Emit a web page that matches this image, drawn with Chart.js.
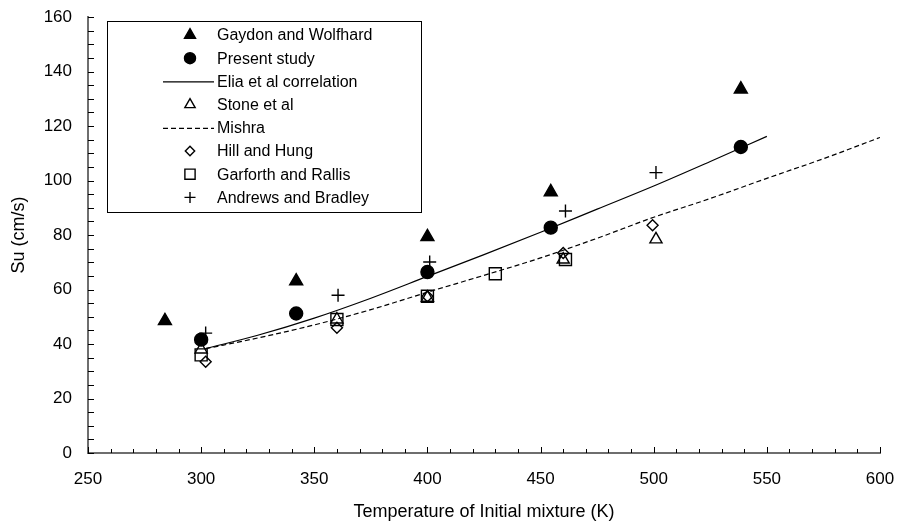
<!DOCTYPE html>
<html>
<head>
<meta charset="utf-8">
<script src="https://cdn.jsdelivr.net/npm/chart.js@4/dist/chart.umd.min.js"></script>
<style>
  html, body { margin: 0; padding: 0; background: #fff; }
  canvas { display: block; }
</style>
</head>
<body>
<canvas id="c" width="900" height="529"></canvas>
<script>
// Burning velocity Su (cm/s) against initial mixture temperature (K)
const gaydonT = [284, 342, 400, 454.5, 538.5];
const gaydonSu = [48.5, 63.1, 79.3, 95.8, 133.5];

const presentT = [300, 342, 400, 454.5, 538.5];
const presentSu = [41.6, 51.2, 66.4, 82.7, 112.3];

const eliaT = [302, 325, 350, 375, 400, 425, 450, 475, 500, 525, 550];
const eliaSu = [38.3, 43.2, 49.5, 56.8, 64.8, 72.8, 81.0, 89.5, 98.0, 107.0, 116.2];

const stoneT = [300, 360, 400, 460, 501];
const stoneSu = [38, 49, 57, 71, 78.4];

const mishraT = [302, 325, 350, 375, 400, 425, 450, 475, 500, 525, 550, 575, 600];
const mishraSu = [38.3, 42.2, 47.0, 52.6, 59.0, 65.2, 71.6, 78.8, 86.5, 93.4, 100.8, 108.0, 115.8];

const hillT = [302, 360, 400, 460, 499.5];
const hillSu = [33.5, 46, 57.5, 73.4, 83.6];

const garforthT = [300, 360, 400, 430, 461];
const garforthSu = [36, 49, 57.5, 65.8, 71];

const andrewsT = [302, 360.5, 401, 461, 501];
const andrewsSu = [44, 57.9, 70.1, 88.8, 102.9];

const xTickValues = [250, 300, 350, 400, 450, 500, 550, 600];
const yTickValues = [0, 20, 40, 60, 80, 100, 120, 140, 160];

const FONT = "'Liberation Sans', Arial, sans-serif";

function pts(xs, ys) {
  return xs.map((x, i) => ({ x: x, y: ys[i] }));
}

function markers(label, xs, ys, style, radius, filled) {
  return {
    label: label,
    data: pts(xs, ys),
    showLine: false,
    pointStyle: style,
    pointRadius: radius,
    pointHoverRadius: radius,
    pointBorderWidth: 1.4,
    pointBorderColor: '#000',
    pointBackgroundColor: filled ? '#000' : 'rgba(0,0,0,0)',
    borderColor: '#000',
    backgroundColor: filled ? '#000' : 'rgba(0,0,0,0)'
  };
}

function curve(label, xs, ys, dash) {
  return {
    label: label,
    data: pts(xs, ys),
    showLine: true,
    pointRadius: 0,
    pointHoverRadius: 0,
    borderColor: '#000',
    borderWidth: 1.2,
    borderDash: dash,
    cubicInterpolationMode: 'monotone',
    fill: false
  };
}

const datasets = [
  markers('Gaydon and Wolfhard', gaydonT, gaydonSu, 'triangle', 7.5, true),
  markers('Present study', presentT, presentSu, 'circle', 6.5, true),
  curve('Elia et al correlation', eliaT, eliaSu, []),
  markers('Stone et al', stoneT, stoneSu, 'triangle', 7, false),
  curve('Mishra', mishraT, mishraSu, [5, 3]),
  markers('Hill and Hung', hillT, hillSu, 'rectRot', 5.5, false),
  markers('Garforth and Rallis', garforthT, garforthSu, 'rect', 8.5, false),
  markers('Andrews and Bradley', andrewsT, andrewsSu, 'cross', 6.5, false)
];

// Inward tick marks: x every 10 K, y every 5 cm/s
const tickMarks = {
  id: 'tickMarks',
  afterDraw(chart) {
    const { ctx, scales: { x, y } } = chart;
    ctx.save();
    ctx.strokeStyle = '#000';
    ctx.lineWidth = 1;
    ctx.beginPath();
    for (let t = 250; t <= 600; t += 10) {
      const px = Math.round(x.getPixelForValue(t)) + 0.5;
      const len = (t % 50 === 0) ? 6 : 4;
      ctx.moveTo(px, y.bottom);
      ctx.lineTo(px, y.bottom - len);
    }
    for (let v = 0; v <= 160; v += 5) {
      const py = Math.round(y.getPixelForValue(v)) + 0.5;
      ctx.moveTo(x.left, py);
      ctx.lineTo(x.left + 6, py);
    }
    ctx.stroke();
    ctx.restore();
  }
};

// Boxed legend inside the plot area, drawn from the datasets' own styles
const boxLegend = {
  id: 'boxLegend',
  afterDatasetsDraw(chart) {
    const ctx = chart.ctx;
    const left = 107.5, top = 21.5, right = 421.5, bottom = 212.5;
    const rowTop = 35, rowGap = 23.2;
    const markX = 190, lineX0 = 163, lineX1 = 214, textX = 217;
    ctx.save();
    ctx.fillStyle = '#fff';
    ctx.fillRect(left, top, right - left, bottom - top);
    ctx.strokeStyle = '#000';
    ctx.lineWidth = 1;
    ctx.strokeRect(left, top, right - left, bottom - top);
    chart.data.datasets.forEach((ds, i) => {
      const yy = rowTop + i * rowGap;
      if (ds.showLine) {
        ctx.save();
        ctx.strokeStyle = ds.borderColor;
        ctx.lineWidth = ds.borderWidth;
        ctx.setLineDash(ds.borderDash || []);
        ctx.beginPath();
        ctx.moveTo(lineX0, yy + 0.5);
        ctx.lineTo(lineX1, yy + 0.5);
        ctx.stroke();
        ctx.restore();
      } else {
        ctx.save();
        ctx.strokeStyle = ds.pointBorderColor;
        ctx.fillStyle = ds.pointBackgroundColor;
        ctx.lineWidth = ds.pointBorderWidth;
        Chart.helpers.drawPoint(ctx, {
          pointStyle: ds.pointStyle,
          radius: ds.pointRadius * 0.85,
          rotation: 0,
          borderWidth: ds.pointBorderWidth
        }, markX, yy);
        ctx.restore();
      }
      ctx.fillStyle = '#000';
      ctx.font = '16px ' + FONT;
      ctx.textBaseline = 'middle';
      ctx.textAlign = 'left';
      ctx.fillText(ds.label, textX, yy + 1);
    });
    ctx.restore();
  }
};

new Chart(document.getElementById('c'), {
  type: 'scatter',
  data: { datasets: datasets },
  plugins: [tickMarks, boxLegend],
  options: {
    responsive: false,
    animation: false,
    events: [],
    layout: { padding: { top: 17, right: 20, left: 0, bottom: 0 } },
    plugins: {
      legend: { display: false },
      tooltip: { enabled: false }
    },
    scales: {
      x: {
        type: 'linear',
        min: 250,
        max: 600,
        afterBuildTicks: (s) => { s.ticks = xTickValues.map(v => ({ value: v })); },
        ticks: { color: '#000', font: { size: 17, family: FONT }, padding: 16, maxRotation: 0 },
        grid: { display: false, drawTicks: false },
        border: { display: true, color: '#6e6e6e', width: 2 },
        title: {
          display: true,
          text: 'Temperature of Initial mixture (K)',
          color: '#000',
          font: { size: 18, family: FONT },
          padding: { top: 4, bottom: 6 }
        },
        afterFit: (s) => { s.height = 76; s.paddingLeft = 0; s.paddingRight = 0; }
      },
      y: {
        type: 'linear',
        min: 0,
        max: 160,
        afterBuildTicks: (s) => { s.ticks = yTickValues.map(v => ({ value: v })); },
        ticks: { color: '#000', font: { size: 17, family: FONT }, padding: 16 },
        grid: { display: false, drawTicks: false },
        border: { display: true, color: '#6e6e6e', width: 2 },
        title: {
          display: true,
          text: 'Su (cm/s)',
          color: '#000',
          font: { size: 18, family: FONT },
          padding: { top: 8, bottom: 4 }
        },
        afterFit: (s) => { s.width = 88; s.paddingTop = 0; s.paddingBottom = 0; }
      }
    }
  }
});
</script>
</body>
</html>
